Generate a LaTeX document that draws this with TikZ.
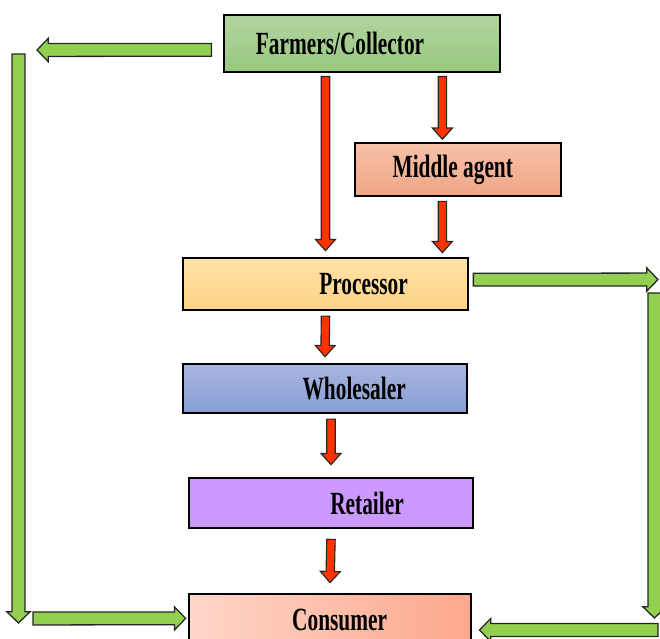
\documentclass[tikz,border=0pt]{standalone}
\usepackage{fontspec}
\setmainfont{Liberation Serif}[FakeStretch=0.66]
\usetikzlibrary{calc,positioning}
\definecolor{farmtop}{HTML}{B2D4A0}
\definecolor{farmbot}{HTML}{98C880}
\definecolor{midtop}{HTML}{F6C0A8}
\definecolor{midbot}{HTML}{F0A686}
\definecolor{proctop}{HTML}{FFE3A8}
\definecolor{procbot}{HTML}{FDD388}
\definecolor{whltop}{HTML}{A8B5DF}
\definecolor{whlbot}{HTML}{879ED4}
\definecolor{retfill}{HTML}{CC99FF}
\definecolor{consleft}{HTML}{FFD6CA}
\definecolor{consright}{HTML}{FCA88C}
\definecolor{loopgreen}{HTML}{92D050}
\definecolor{flowred}{HTML}{FF3300}
\tikzset{
  stage/.style={rectangle,draw=black,line width=1.9pt,inner sep=0pt},
  lbl/.style={font=\fontsize{23}{26}\selectfont\bfseries,inner sep=0pt},
  blockarr/.style n args={3}{to path={
      (\tikztostart) coordinate (ba-s) (\tikztotarget) coordinate (ba-t)
      ($(ba-t)!#3!(ba-s)$) coordinate (ba-h)
      ($(ba-s)!#1!90:(ba-t)$) -- ($(ba-h)!#1!90:(ba-t)$) -- ($(ba-h)!#2!90:(ba-t)$)
      -- (ba-t) -- ($(ba-h)!#2!-90:(ba-t)$) -- ($(ba-h)!#1!-90:(ba-t)$)
      -- ($(ba-s)!#1!-90:(ba-t)$) -- cycle}},
}
\begin{document}
\begin{tikzpicture}[x=0.025cm,y=-0.025cm,
  redarr/.style={blockarr={0.105cm}{0.25cm}{0.28cm},draw=black!85,
                 line width=0.8pt,fill=flowred},
  greenarr/.style={blockarr={0.16cm}{0.29cm}{0.28cm},draw=black!85,
                   line width=0.9pt,fill=loopgreen}
]
  \useasboundingbox (0,0) rectangle (660,639);

  \node[stage,top color=farmtop,bottom color=farmbot,
        minimum width=6.9cm,minimum height=1.425cm,
        label={[lbl,xshift=-0.55cm]center:Farmers/Collector}] (farmer) at (362,43.5) {};
  \node[stage,top color=midtop,bottom color=midbot,
        minimum width=5.15cm,minimum height=1.325cm,
        label={[lbl,xshift=-0.13cm]center:Middle agent}] (middle) at (458,169.5) {};
  \node[stage,top color=proctop,bottom color=procbot,
        minimum width=7.125cm,minimum height=1.3cm,
        label={[lbl,xshift=0.95cm]center:Processor}] (proc) at (325.5,284) {};
  \node[stage,top color=whltop,bottom color=whlbot,
        minimum width=7.1cm,minimum height=1.225cm,
        label={[lbl,xshift=0.73cm]center:Wholesaler}] (whole) at (325,388.5) {};
  \node[stage,fill=retfill,
        minimum width=7.1cm,minimum height=1.25cm,
        label={[lbl,xshift=0.9cm]center:Retailer}] (retail) at (331,503) {};
  \node[stage,left color=consleft,right color=consright,
        minimum width=7.05cm,minimum height=1.3cm,
        label={[lbl,xshift=0.24cm]center:Consumer}] (cons) at (330,620) {};

  \coordinate (ltop) at (37,50);
  \coordinate (lstart) at (18.5,54);
  \coordinate (lend) at (18.5,623);
  \coordinate (lbot) at (33,618.5);
  \coordinate (rtop) at (658,279.5);
  \coordinate (rstart) at (654.5,293);
  \coordinate (rend) at (654.5,618);
  \coordinate (rbot) at (658,630);

  \draw[redarr] ([yshift=-0.08cm]farmer.south -| proc.north) to ([yshift=0.15cm]proc.north);
  \draw[redarr] ([xshift=-0.39cm,yshift=-0.08cm]farmer.south -| middle.north)
    to ([xshift=-0.39cm,yshift=0.06cm]middle.north);
  \draw[redarr] ([xshift=-0.39cm,yshift=-0.1cm]middle.south)
    to ([xshift=-0.39cm,yshift=0.1cm]proc.north -| middle.south);
  \draw[redarr] ([yshift=-0.12cm]proc.south) to ([yshift=0.15cm]whole.north);
  \draw[redarr] ([yshift=-0.12cm]whole.south -| retail.north) to ([yshift=0.3cm]retail.north);
  \draw[redarr] ([yshift=-0.25cm]retail.south) to ([yshift=0.25cm]cons.north);

  \draw[greenarr] ([xshift=-0.28cm,yshift=-0.16cm]farmer.west) to (ltop);
  \draw[greenarr] (lstart) to (lend);
  \draw[greenarr] (lbot) to ([xshift=-0.05cm,yshift=0.04cm]cons.west);
  \draw[greenarr] ([xshift=0.1cm,yshift=0.11cm]proc.east) to (rtop);
  \draw[greenarr] (rstart) to (rend);
  \draw[greenarr] (rbot) to ([xshift=0.18cm,yshift=-0.25cm]cons.east);
\end{tikzpicture}
\end{document}
